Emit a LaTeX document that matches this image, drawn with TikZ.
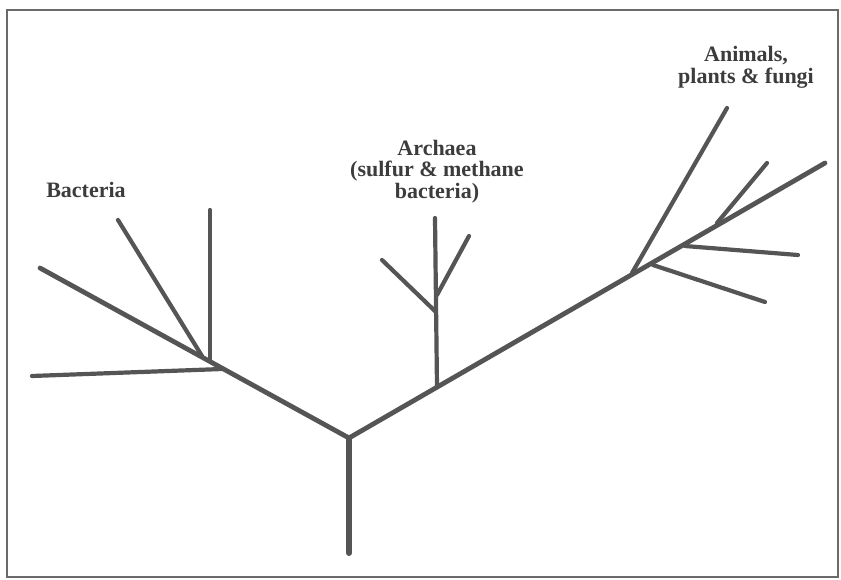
\documentclass[tikz,border=0pt]{standalone}
\usepackage{fontspec}
\setmainfont{Liberation Serif}
\definecolor{treegray}{HTML}{555555}
\definecolor{txtgray}{HTML}{3C3C3C}
\definecolor{framegray}{HTML}{6A6A6A}
\begin{document}
\begin{tikzpicture}[x=1pt,y=-1pt,
  trunk/.style={line width=6pt, draw=treegray, line cap=round},
  branch/.style={line width=4.8pt, draw=treegray, line cap=round},
  twig/.style={line width=4.2pt, draw=treegray, line cap=round},
  label/.style={font=\fontsize{22}{21.5}\selectfont\bfseries, text=txtgray, align=center, anchor=base, inner sep=0pt},
  frame/.style={line width=1.4pt, draw=framegray}]
\useasboundingbox (0,0) rectangle (841,579);
\draw[frame] (7,10) rectangle (838,577);
% coordinates
\coordinate (rootbot) at (349,553);
\coordinate (root) at (349,438);
\coordinate (bj) at (220,367);
\coordinate (btip) at (40,268);
\coordinate (b1end) at (32,376);
\coordinate (b1j) at (222,369);
\coordinate (b2top) at (210,210);
\coordinate (b2j) at (210,360);
\coordinate (b3top) at (118,220);
\coordinate (b3j) at (202,356);
\coordinate (atip) at (825,163);
\coordinate (arj) at (437,387);
\coordinate (artop) at (435,218);
\coordinate (arsj) at (436,312);
\coordinate (arl) at (382,260);
\coordinate (arsj2) at (437,295);
\coordinate (arr) at (469,236);
\coordinate (anj) at (632,273);
\coordinate (antop) at (727,108);
\coordinate (e2j) at (717,223);
\coordinate (e2) at (767,163);
\coordinate (e3j) at (685,246);
\coordinate (e3) at (798,255);
\coordinate (e4j) at (653,265);
\coordinate (e4) at (765,302);
% trunk
\draw[trunk] (rootbot) -- (root);
\draw[branch] (btip) -- (root) -- (atip);
% bacteria
\draw[twig] (b1end) -- (b1j);
\draw[twig] (b2top) -- (b2j);
\draw[twig] (b3top) -- (b3j);
% archaea
\draw[twig] (artop) -- (arj);
\draw[twig] (arl) -- (arsj);
\draw[twig] (arr) -- (arsj2);
% animals
\draw[twig] (antop) -- (anj);
\draw[twig] (e2) -- (e2j);
\draw[twig] (e3) -- (e3j);
\draw[twig] (e4) -- (e4j);
% labels
\node[label] (bac) at (86,197) {Bacteria};
\node[label] (arc) at (437,198) {Archaea\\(sulfur \& methane\\bacteria)};
\node[label] (ani) at (746,83) {Animals,\\plants \& fungi};
\end{tikzpicture}
\end{document}
